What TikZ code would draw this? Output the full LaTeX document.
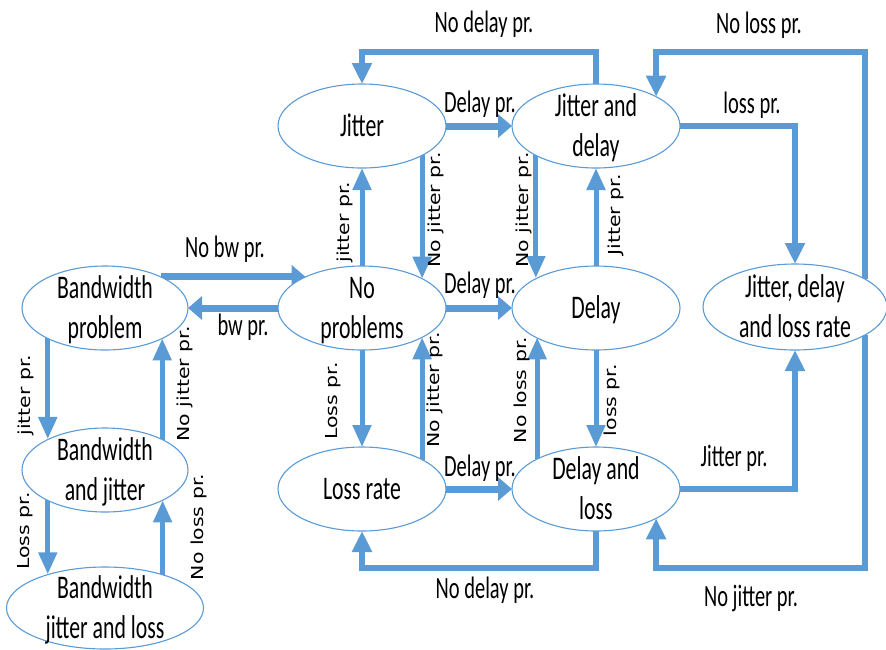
\documentclass[tikz,border=0pt]{standalone}
\usepackage{fontspec}
\setmainfont{Carlito}[FakeStretch=0.66]
\newfontfamily\sidefont{DejaVu Sans}[FakeStretch=1.24]
\usetikzlibrary{shapes.geometric,arrows.meta,backgrounds}

\definecolor{stateblue}{RGB}{91,155,213}

% two-line state text, kept out of the ellipse size computation
\newcommand{\statetext}[1]{\makebox[0pt]{\smash{\raisebox{-0.25em}{\begin{tabular}{@{}c@{}}#1\end{tabular}}}}}

\tikzset{
  state/.style={ellipse, draw=stateblue, line width=1.1pt, fill=white,
    inner sep=0pt, outer sep=0pt, minimum width=168pt, minimum height=84pt,
    font=\fontsize{33}{40}\selectfont},
  varrow/.style={draw=stateblue, line width=5pt, -{Triangle[width=18pt,length=22pt]}},
  harrow/.style={draw=stateblue, line width=7pt, -{Triangle[width=23pt,length=14pt]}},
  looparrow/.style={draw=stateblue, line width=6pt, line join=miter,
    -{Triangle[width=19pt,length=21pt]}},
  hlbl/.style={anchor=base, inner sep=0pt, font=\fontsize{31}{37}\selectfont},
  vlbl/.style={rotate=90, inner sep=0pt, font=\sidefont\fontsize{16.5}{20}\selectfont},
}

\begin{document}
\begin{tikzpicture}[x=1pt, y=-1pt]
\useasboundingbox (0,0) rectangle (886,649);

% states
\node[state] (J)   at (362,126) {\statetext{Jitter}};
\node[state] (JD)  at (596,126) {\statetext{Jitter and\\delay}};
\node[state] (NP)  at (362,308) {\statetext{No\\problems}};
\node[state] (D)   at (596,308) {\statetext{Delay}};
\node[state] (LR)  at (362,489) {\statetext{Loss rate}};
\node[state] (DL)  at (596,489) {\statetext{Delay and\\loss}};
\node[state, minimum width=184pt, minimum height=86pt] (JDL) at (795,307) {\statetext{Jitter, delay\\and loss rate}};
\node[state, minimum width=166pt] (BP)  at (105,308) {\statetext{Bandwidth\\problem}};
\node[state, minimum width=166pt] (BJ)  at (105,470) {\statetext{Bandwidth\\and jitter}};
\node[state, minimum width=197pt, minimum height=82pt] (BJL) at (105,608) {\statetext{Bandwidth\\jitter and loss}};

\coordinate (toprail) at (0,52);
\coordinate (botrail) at (0,568);

\begin{scope}[on background layer]
  % bandwidth column
  \draw[harrow] (BP.29) -- (BP.29 -| NP.151.3);
  \draw[harrow] (NP.west) -- (BP.east);
  \draw[varrow] (BP.208.2) -- (BP.208.2 |- BJ.151.8);
  \draw[varrow] (BJ.28.2) -- (BJ.28.2 |- BP.-28.2);
  \draw[varrow] (BJ.208.2) -- (BJ.208.2 |- BJL.149.9);
  \draw[varrow] (BJL.30.1) -- (BJL.30.1 |- BJ.-28.2);

  % middle grid
  \draw[harrow] (J.east) -- (JD.west);
  \draw[harrow] (NP.east) -- (D.west);
  \draw[harrow] (LR.east) -- (DL.west);
  \draw[varrow] (NP.north) -- (J.south);
  \draw[varrow] (J.-26.1) -- (J.-26.1 |- NP.26.1);
  \draw[varrow] (NP.south) -- (LR.north);
  \draw[varrow] (LR.26.1) -- (LR.26.1 |- NP.-26.1);
  \draw[varrow] (JD.206.1) -- (JD.206.1 |- D.153.9);
  \draw[varrow] (D.north) -- (JD.south);
  \draw[varrow] (D.south) -- (DL.north);
  \draw[varrow] (DL.153.9) -- (DL.153.9 |- D.206.1);

  % outer loops
  \draw[looparrow] (JD.north) -- (JD.north |- toprail) -| (J.north);
  \draw[looparrow] (DL.south) -- (DL.south |- botrail) -| (LR.south);
  \draw[looparrow] (JDL.22.4) -- (JDL.22.4 |- toprail) -| (JD.26.1);
  \draw[looparrow] (JDL.-22.4) -- (JDL.-22.4 |- botrail) -| (DL.-26.1);
  \draw[looparrow] (JD.east) -| (JDL.north);
  \draw[looparrow] (DL.east) -| (JDL.south);
\end{scope}

% horizontal labels
\node[hlbl] (l1)  at (484,32)  {No delay pr.};
\node[hlbl] (l2)  at (759,33)  {No loss pr.};
\node[hlbl] (l3)  at (480,112) {Delay pr.};
\node[hlbl] (l4)  at (752,113) {loss pr.};
\node[hlbl] (l5)  at (225,257) {No bw pr.};
\node[hlbl] (l6)  at (480,293) {Delay pr.};
\node[hlbl] (l7)  at (243,335) {bw pr.};
\node[hlbl] (l8)  at (480,476) {Delay pr.};
\node[hlbl] (l9)  at (734,466) {Jitter pr.};
\node[hlbl] (l10) at (485,598) {No delay pr.};
\node[hlbl] (l11) at (751,606) {No jitter pr.};

% vertical labels
\node[vlbl] (v1)  at (26,395)  {jitter pr.};
\node[vlbl] (v2)  at (185,384) {No jitter pr.};
\node[vlbl] (v3)  at (25,531)  {Loss pr.};
\node[vlbl] (v4)  at (199,527) {No loss pr.};
\node[vlbl] (v5)  at (345,222) {jitter pr.};
\node[vlbl] (v6)  at (436,210) {No jitter pr.};
\node[vlbl] (v7)  at (524,210) {No jitter pr.};
\node[vlbl] (v8)  at (616,215) {Jitter pr.};
\node[vlbl] (v9)  at (333,401) {Loss pr.};
\node[vlbl] (v10) at (435,390) {No jitter pr.};
\node[vlbl] (v11) at (522,390) {No loss pr.};
\node[vlbl] (v12) at (612,400) {loss pr.};
\end{tikzpicture}
\end{document}
